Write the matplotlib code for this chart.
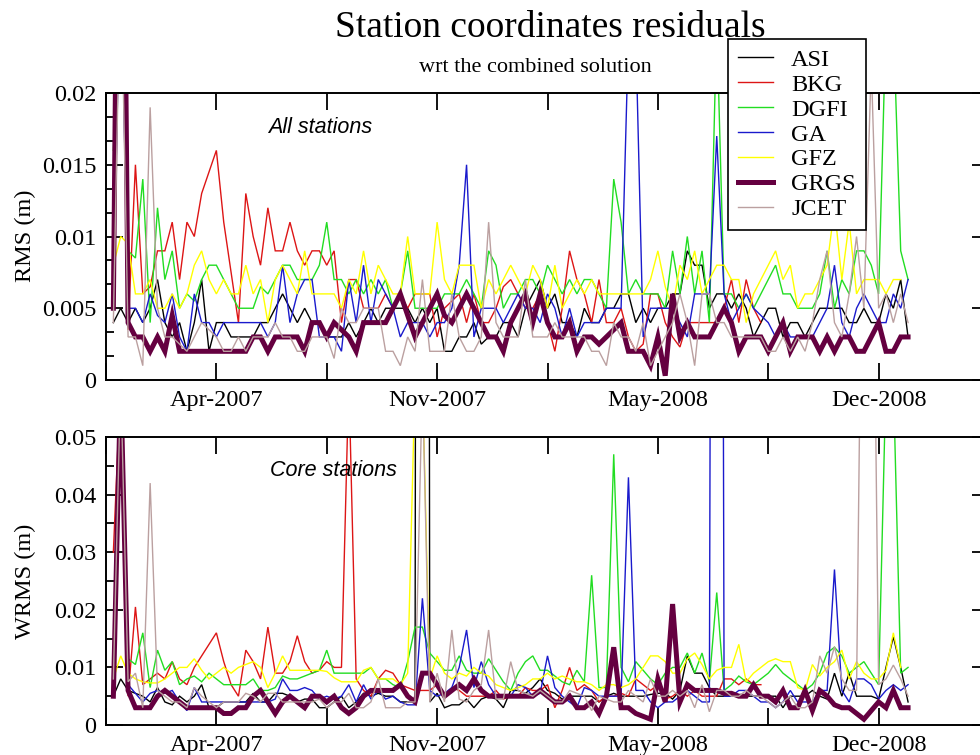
import numpy as np
import matplotlib
matplotlib.use('Agg')
import matplotlib.pyplot as plt
from matplotlib.ticker import MultipleLocator, FuncFormatter

# analysis centres, same order as the legend
centers = ['ASI', 'BKG', 'DGFI', 'GA', 'GFZ', 'GRGS', 'JCET']
line_colors = ['#000000', '#dd1515', '#22dd22', '#1a1acc', '#ffff00', '#650040', '#bba0a0']
line_widths = [1.0, 1.0, 1.0, 1.0, 1.0, 3.6, 1.0]

# weekly values in mm (x = week number since start of series)
# --- RMS, all stations ---
rms_asi = [4, 5, 4, 5, 4, 5, 7, 4, 3, 4,
           2, 4, 7, 2, 4, 4, 3, 3, 3, 3,
           4, 4, 5, 6, 5, 4, 5, 4, 4, 3,
           3, 3, 4, 3, 4, 5, 4, 5, 5, 5,
           5, 4, 5, 4, 5, 2, 2, 3, 3, 4,
           2.5, 3, 3, 4, 4, 3, 5, 6, 7, 5,
           6, 4, 4, 3, 5, 4, 4, 5, 5, 6,
           6, 4, 5, 4, 5, 5, 6, 6, 9, 8,
           8, 5, 6, 6, 5, 6, 5, 3, 4, 5,
           5, 3, 4, 4, 3, 4, 5, 5, 5, 5,
           4, 4, 5, 4, 4, 6, 5, 7, 3]
rms_bkg = [12, 40, 3.5, 15, 6, 6.5, 9, 9, 11, 7,
           11, 10, 13, 14.5, 16, 11, 7.5, 4, 13, 10,
           8, 12, 9, 9, 11, 9, 8, 9, 9, 8,
           9, 4, 7, 7, 5, 5, 5, 6, 5, 6,
           5, 6, 6, 6, 3, 5, 5.5, 6, 4, 6,
           4, 4, 5, 6.5, 7, 6, 5, 5, 6, 4,
           2, 5, 9, 7, 6, 4, 7, 4, 4, 5,
           3, 2, 2.5, 6, 6, 4, 3, 2.3, 4, 4,
           4, 4, 4, 5, 7, 4, 7, 5, 4]
rms_dgfi = [16, 30, 9, 8.5, 14, 4, 12, 7, 9, 5,
            6, 5.5, 7, 8, 8, 7, 6, 5, 5, 5,
            6.5, 6, 7, 8, 8, 7, 7, 7, 8, 11,
            7, 7, 6, 7, 6, 7, 6, 7, 5, 6,
            9, 5, 5, 5, 5, 6, 6, 6, 7, 6,
            5, 9, 8, 5, 6, 6, 7, 7, 6, 8,
            7, 6, 7, 6, 7, 7, 6, 5, 14, 11,
            6, 7, 6, 6, 6, 5, 9, 6, 10, 6,
            9, 4, 25, 6, 6, 5, 6, 5, 6, 7,
            8, 6, 6, 5, 5, 5, 6, 9, 5, 7,
            6, 9, 9, 8, 6, 25, 25, 9, 7]
rms_ga = [6, 30, 5, 5, 4, 6, 4.5, 4, 6, 3,
          2, 6, 4, 4, 3, 4, 4, 4, 4, 4,
          4, 3, 4, 8, 4, 6, 7, 7, 3, 3,
          3, 2, 7, 4, 8, 4, 7, 6, 5, 3,
          4, 4, 4, 3, 4, 4, 5, 8, 15, 3,
          5, 5, 5, 4, 5, 6, 5, 5, 4, 6,
          5, 3, 5, 3, 4, 4, 4, 5, 5, 5,
          24, 24, 3, 5, 5, 5, 5, 4, 3, 6,
          6, 6, 17, 6, 4, 5, 6, 5, 4.5, 4,
          3, 4, 3, 3, 3, 3, 4, 5, 8, 4,
          3, 5, 6, 5, 4, 4, 6, 5, 7]
rms_gfz = [8, 10, 9.5, 6, 6, 7, 5, 5, 6, 5,
           6, 8, 9, 7, 6, 7, 6, 6, 8, 6,
           7, 4, 7, 8, 7, 6, 9, 6, 6, 6,
           6, 5, 7, 6, 9, 6, 8, 7, 6, 6,
           10, 6, 6, 6, 11, 7, 6, 8, 8, 8,
           5, 7, 6, 7, 8, 7, 6, 8, 7, 5,
           8, 5, 6, 7, 6, 7, 6, 6, 6, 6,
           6, 6, 6, 7, 9, 6.5, 5, 8, 7, 9,
           6, 7, 8, 8, 7, 7, 4, 6, 7, 8,
           9, 7, 8, 5, 6, 6, 7, 8, 12, 7,
           11, 6, 7, 7, 7, 6, 7, 7]
rms_grgs = [5, 60, 4, 3, 3, 2, 3, 2, 4.5, 2,
            2, 2, 2, 2, 2, 2, 2, 2, 2, 3,
            3, 2, 3, 3, 3, 3, 2, 4, 4, 3,
            4, 3.5, 3, 2, 4, 4, 4, 4, 5, 6,
            4.5, 3, 4, 5, 6, 4.5, 4, 5, 6, 5,
            4, 3, 3, 2, 4, 5, 6, 4, 6, 4,
            3, 3, 4, 2, 3, 3, 2.5, 3, 3.5, 4,
            2, 2, 2, 1, 3, 0.3, 6, 3, 4, 3,
            3, 3, 4, 5, 4, 2, 3, 3, 3, 2,
            3, 4, 2, 3, 3, 3, 2, 3, 2, 3,
            3, 2, 2, 3, 4, 2, 2, 3, 3]
rms_jcet = [4, 30, 3, 3, 1, 19, 5, 3, 3, 2.5,
            2, 3, 4, 3.5, 3, 2, 2, 3, 2, 3,
            3, 3, 4, 3, 3, 2, 2, 3, 3, 3,
            1.5, 5, 4, 4, 5, 5, 5, 2, 2, 1,
            3, 2, 7, 2, 2, 2, 6, 3, 2, 2,
            3, 11, 4, 3, 3, 3, 7, 3, 3, 3,
            4, 3, 3, 3, 3, 2, 2, 1, 4, 3,
            3, 2, 4, 1, 2, 3, 4, 6, 4, 1,
            6, 6, 4, 4, 3, 3, 3, 3, 3, 2,
            2, 3, 2, 3, 2, 4, 7, 9, 4, 3,
            6, 10, 5, 22, 5, 6, 4, 6, 4]

# --- WRMS, core stations ---
wrms_asi = [5, 8, 6, 5.5, 5, 4, 6.5, 4, 3.5, 5,
            4, 5, 7, 3, 3, 4, 4, 4, 4, 5.5,
            4, 4, 5.5, 5.5, 5, 4, 4.5, 4.5, 3, 3,
            4, 5, 3, 4, 5.5, 5, 5.5, 5, 5, 4,
            4, 4, 1000, 4, 5.5, 3, 3.5, 3.5, 4.5, 3,
            4.5, 5, 4.5, 3, 6, 6, 5.5, 6.5, 8, 6,
            5.5, 4.5, 5, 5, 5, 5, 4, 5, 5.5, 5,
            5, 5, 5, 5.3, 5.5, 5.5, 4.5, 6, 12, 9,
            9, 6.5, 5, 5, 5, 5, 5, 5, 5, 5,
            5, 3, 5, 5, 5, 6, 5, 4.5, 9, 5,
            9, 5, 5, 5, 4.5, 10, 15.3, 10, 4]
wrms_bkg = [30, 60, 5, 20.5, 7, 8, 9, 8, 11, 8,
            7, 10, 12, 14, 16, 11, 7, 5, 13, 11,
            8, 17, 9, 9, 11, 15.5, 11, 9, 9.5, 11,
            10, 10, 60, 8, 6, 5, 8, 9.5, 9, 7,
            6.5, 6, 6, 6, 7, 5, 6.5, 6, 5, 5,
            5, 5, 6, 4.5, 5, 5, 6.5, 6, 6, 7,
            3, 6, 10, 6, 7, 6, 4, 5, 5, 5.5,
            5, 8, 7, 6, 7, 4.5, 5, 6, 5, 6,
            5, 5, 5, 8, 8, 7, 8, 7, 7]
wrms_dgfi = [8, 60, 11.5, 10.5, 16, 6.5, 13, 9.5, 11, 7,
             8, 8.5, 7.5, 9, 8, 7, 7, 7, 7, 8,
             6, 6, 6.5, 8.5, 8, 8, 8.5, 9, 9.5, 13,
             9, 9, 9, 9, 9, 10, 8, 8, 7, 6.5,
             11, 17, 17, 12.5, 11, 9.5, 9.5, 12, 9.5, 9,
             9, 11.5, 9.5, 7.5, 6, 9, 11, 12, 9.5, 9.5,
             8.5, 7.5, 7, 9.5, 7.5, 26, 6.5, 6.5, 47, 10,
             7.5, 11, 9.5, 8, 7, 9, 10, 10, 12.5, 9,
             12.5, 7.5, 23, 6, 7, 8.5, 7.5, 7, 8, 9,
             10.5, 9, 8, 7, 6, 7, 9, 12.5, 13.5, 12,
             9, 10, 11, 9, 7, 60, 60, 9, 10]
wrms_ga = [5, 60, 7, 5.5, 4, 5.5, 6, 5.5, 6, 4,
           2.5, 6.5, 4, 4, 4, 4, 4, 4, 4, 4,
           4, 4, 4.5, 8, 6, 6, 6.5, 6, 4.5, 5,
           4.5, 5, 7, 4, 7, 4.5, 6, 4.5, 5, 4,
           3.5, 3.5, 22, 6, 5, 5.5, 6.5, 10, 16.5, 6.5,
           11, 7, 5, 5, 5, 7, 6.5, 5, 5.5, 12,
           6.5, 5, 4, 3, 6.5, 6, 5, 5, 5, 5,
           43, 6, 6, 4, 3, 4, 4, 5, 6, 5,
           4, 4, 500, 5, 5, 6, 6, 5, 4, 4,
           3, 4, 6, 4, 4, 4, 6, 6, 27, 6,
           4, 8, 8, 7, 4.5, 6, 7, 6, 7]
wrms_gfz = [8, 12, 9, 8, 7.5, 7.3, 7.3, 8, 9, 10,
            10, 11.5, 9.5, 8, 9, 10, 9, 10, 10.5, 11,
            10, 6.5, 9, 12, 9.5, 9.5, 9.5, 9.5, 9.5, 9.3,
            8.2, 7.5, 7.5, 7.5, 9.5, 10, 8, 8, 8, 7,
            9, 60, 60, 8, 12, 9, 8, 9, 8.5, 10,
            9, 8.5, 7, 6.5, 6, 6.5, 7, 8, 8, 9,
            8, 8.5, 8, 7.5, 7.5, 7, 6, 7, 7, 6.5,
            7, 8, 10, 12, 12, 11, 9, 9, 11.5, 12.5,
            10.5, 8, 9.5, 10, 10, 14, 7.5, 9, 10, 11,
            11.5, 11, 11, 6.5, 6, 10.5, 8.5, 10, 11, 13,
            8, 11, 9, 8, 8, 9.5, 16, 10]
wrms_grgs = [5, 60, 6, 3, 3, 3, 5, 6, 5, 4,
             3, 3, 3, 3, 3, 2, 2, 3, 3, 5,
             6, 4, 2, 4, 5, 4, 3, 5, 5, 4,
             5, 3, 2, 3, 5, 6, 6, 6, 6, 7,
             5, 4, 9, 9, 7, 5, 6, 7, 6, 8,
             6, 5, 5, 5, 5, 5, 5, 5, 6, 5,
             4, 4, 5, 3, 3, 4, 2, 5, 13.5, 3,
             3, 2, 1.5, 1, 8, 4, 21, 4, 7, 6,
             6, 6, 6, 5.5, 5.5, 5, 5, 7, 5, 5,
             4, 6, 3, 3, 6, 2.5, 6, 5, 3.5, 3,
             3, 2, 1, 2.5, 4, 3, 6, 3, 3]
wrms_jcet = [8, 60, 7.5, 9, 3, 42, 6, 5, 4, 4,
             3, 6.5, 5, 4, 3, 4, 4, 4, 5.5, 5,
             4, 5.5, 5.5, 4, 4, 4, 4, 4, 4.5, 3,
             4, 4, 5.5, 3, 3, 4, 8, 3, 3, 3,
             4, 4, 60, 4, 9, 4, 16.5, 4.5, 4, 6,
             7, 16.5, 4.5, 4.5, 11, 6, 5.5, 5, 6, 5,
             4, 4, 6, 5.5, 5, 2.5, 5, 4.5, 4, 4,
             6, 5, 4, 8, 5, 5, 6, 5, 6, 3,
             7, 2.3, 6, 6, 5, 5, 6, 5, 5, 4,
             3, 4, 5, 3, 3, 4, 12, 9, 13.6, 8,
             6, 6, 120, 120, 7, 8, 10.4, 8, 5]

rms_series = [rms_asi, rms_bkg, rms_dgfi, rms_ga, rms_gfz, rms_grgs, rms_jcet]
wrms_series = [wrms_asi, wrms_bkg, wrms_dgfi, wrms_ga, wrms_gfz, wrms_grgs, wrms_jcet]

tick_weeks = [0, 15, 30, 45, 60, 75, 90, 105, 120]
tick_labels = ['', 'Apr-2007', '', 'Nov-2007', '', 'May-2008', '', 'Dec-2008', '']

plt.rcParams['font.family'] = ['Liberation Serif', 'DejaVu Serif']

W, H = 980, 755
fig = plt.figure(figsize=(W / 100, H / 100), dpi=100)
ax1 = fig.add_axes([106 / W, 1 - 380 / H, 883 / W, 287 / H])
ax2 = fig.add_axes([106 / W, 1 - 725 / H, 883 / W, 288 / H])


def draw_panel(ax, series, ymax, ymajor, yminor, note, note_pos):
    handles = []
    for name, vals, c, lw in zip(centers, series, line_colors, line_widths):
        v = np.array(vals, dtype=float) / 1000.0
        wk = np.arange(1, len(v) + 1)
        h, = ax.plot(wk, v, color=c, lw=lw, label=name, solid_joinstyle='miter')
        handles.append(h)
    ax.set_xlim(0, 120)
    ax.set_ylim(0, ymax)
    ax.set_xticks(tick_weeks)
    ax.set_xticklabels(tick_labels)
    ax.yaxis.set_major_locator(MultipleLocator(ymajor))
    ax.yaxis.set_minor_locator(MultipleLocator(yminor))
    ax.yaxis.set_major_formatter(FuncFormatter(lambda y, p: '%g' % round(y, 4)))
    ax.tick_params(which='both', direction='in', top=True, right=True,
                   labelsize=17.5, width=1.3, pad=7)
    ax.tick_params(which='major', length=12)
    ax.tick_params(which='minor', length=6)
    for s in ax.spines.values():
        s.set_linewidth(1.4)
    ax.text(note_pos[0], note_pos[1], note, transform=ax.transAxes,
            family='Liberation Sans', style='italic', fontsize=15.5,
            ha='left', va='center')
    return handles


handles = draw_panel(ax1, rms_series, 0.02, 0.005, 0.005 / 3,
                     'All stations', (0.1835, 0.8815))
draw_panel(ax2, wrms_series, 0.05, 0.01, 0.005,
           'Core stations', (0.1857, 0.885))

fig.text(25 / W, 1 - 236 / H, 'RMS (m)', rotation=90, fontsize=17.5,
         ha='center', va='center')
fig.text(25 / W, 1 - 581 / H, 'WRMS (m)', rotation=90, fontsize=17.5,
         ha='center', va='center')

fig.text(550 / W, 1 - 28 / H, 'Station coordinates residuals', fontsize=27,
         ha='center', va='center')
fig.text(535 / W, 1 - 68 / H, 'wrt the combined solution', fontsize=16,
         ha='center', va='center')

leg = fig.legend(handles, centers, loc='upper left',
                 bbox_to_anchor=(728 / W, 1 - 39 / H), borderaxespad=0,
                 frameon=True, fancybox=False, framealpha=1, edgecolor='black',
                 fontsize=17.5, handlelength=1.45, handletextpad=0.75,
                 labelspacing=0.12, borderpad=0.4)
leg.get_frame().set_linewidth(1.2)

fig.savefig('out.png', dpi=100)
